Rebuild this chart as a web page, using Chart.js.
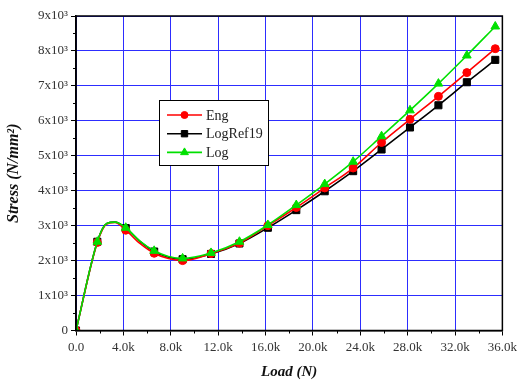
<!DOCTYPE html>
<html>
<head>
<meta charset="utf-8">
<script src="https://cdn.jsdelivr.net/npm/chart.js@4"></script>
<style>
  html, body { margin: 0; padding: 0; background: #fff; }
  #wrap { width: 521px; height: 385px; }
</style>
</head>
<body>
<div id="wrap"><canvas id="chart"></canvas></div>
<script>
// load in N
const loads = [0, 1800, 2600, 3300, 4200, 5400, 6600, 7800, 9000, 11400, 13800, 16200, 18600, 21000, 23400, 25800, 28200, 30600, 33000, 35400];
// which loads carry a marker (the others are only line points)
const marked = [1, 1, 0, 0, 1, 0, 1, 0, 1, 1, 1, 1, 1, 1, 1, 1, 1, 1, 1, 1];

const eng = [0, 2520, 3050, 3090, 2870, 2490, 2210, 2060, 2000, 2200, 2500, 3000, 3520, 4080, 4650, 5380, 6045, 6700, 7380, 8065];
const logRef19 = [0, 2540, 3060, 3100, 2930, 2550, 2260, 2100, 2040, 2190, 2490, 2940, 3445, 3985, 4560, 5180, 5810, 6445, 7105, 7745];
const logStress = [0, 2540, 3060, 3100, 2940, 2560, 2280, 2120, 2063, 2220, 2540, 3020, 3590, 4190, 4830, 5560, 6300, 7065, 7870, 8700];

const xTicks = ["0.0", "4.0k", "8.0k", "12.0k", "16.0k", "20.0k", "24.0k", "28.0k", "32.0k", "36.0k"];
const yTicks = ["0", "1x10³", "2x10³", "3x10³", "4x10³", "5x10³", "6x10³", "7x10³", "8x10³", "9x10³"];

const FONT = "'Liberation Serif', 'Times New Roman', serif";

function pts(ys) {
    return loads.map((x, i) => ({ x: x, y: ys[i] }));
}

function series(label, ys, color, style, r, order) {
    return {
        label: label,
        data: pts(ys),
        borderColor: color,
        backgroundColor: color,
        borderWidth: 1.6,
        pointStyle: style,
        pointRadius: marked.map(m => m ? r : 0),
        pointBorderWidth: 1,
        cubicInterpolationMode: "monotone",
        order: order
    };
}

const datasets = [
    series("Eng", eng, "#ff0000", "circle", 4, 1),
    series("LogRef19", logRef19, "#000000", "rect", 5, 2),
    series("Log", logStress, "#00e000", "triangle", 5, 0)
];

// frame, minor ticks and the boxed legend
const extras = {
    id: "extras",
    afterDraw(chart) {
        const ctx = chart.ctx;
        const a = chart.chartArea;
        const xs = chart.scales.x, ys = chart.scales.y;
        ctx.save();
        ctx.strokeStyle = "#000";
        ctx.lineWidth = 1.5;
        ctx.strokeRect(a.left, a.top, a.right - a.left, a.bottom - a.top);

        ctx.lineWidth = 1;
        ctx.beginPath();
        for (let v = 2000; v < 36000; v += 4000) {
            const px = Math.round(xs.getPixelForValue(v)) + 0.5;
            ctx.moveTo(px, a.bottom);
            ctx.lineTo(px, a.bottom + 3);
        }
        for (let v = 500; v < 9000; v += 1000) {
            const py = Math.round(ys.getPixelForValue(v)) + 0.5;
            ctx.moveTo(a.left, py);
            ctx.lineTo(a.left - 3, py);
        }
        ctx.stroke();

        // legend
        const bx = a.left + 83, by = a.top + 84, bw = 109, bh = 65;
        ctx.fillStyle = "#fff";
        ctx.fillRect(bx, by, bw, bh);
        ctx.strokeStyle = "#000";
        ctx.lineWidth = 1;
        ctx.strokeRect(bx + 0.5, by + 0.5, bw, bh);
        ctx.font = "14px " + FONT;
        ctx.textBaseline = "middle";
        chart.data.datasets.forEach((ds, row) => {
            const yy = by + 15 + row * 18.7;
            ctx.strokeStyle = ds.borderColor;
            ctx.fillStyle = ds.borderColor;
            ctx.lineWidth = 1.6;
            ctx.beginPath();
            ctx.moveTo(bx + 8, yy);
            ctx.lineTo(bx + 43, yy);
            ctx.stroke();
            ctx.lineWidth = 1;
            Chart.helpers.drawPoint(ctx, {
                pointStyle: ds.pointStyle,
                rotation: 0,
                radius: ds.pointStyle === "circle" ? 3.5 : 4.5,
                borderWidth: 1
            }, bx + 25.5, yy);
            ctx.fillStyle = "#222";
            ctx.fillText(ds.label, bx + 47, yy + 1);
        });
        ctx.restore();
    }
};

new Chart(document.getElementById("chart"), {
    type: "line",
    data: { datasets: datasets },
    options: {
        responsive: true,
        maintainAspectRatio: false,
        animation: false,
        layout: { padding: { left: 0, right: 16, top: 16, bottom: 0 } },
        plugins: { legend: { display: false }, tooltip: { enabled: false } },
        scales: {
            x: {
                type: "linear",
                min: 0,
                max: 36000,
                afterFit(s) { s.height = 54.5; },
                ticks: {
                    stepSize: 4000,
                    padding: 4,
                    color: "#333",
                    font: { family: FONT, size: 13 },
                    maxRotation: 0,
                    callback: (v, i) => xTicks[i]
                },
                grid: { color: "rgb(45,45,255)", tickColor: "#000", tickLength: 5, lineWidth: 1 },
                border: { color: "#000", width: 1.5 },
                title: {
                    display: true,
                    text: "Load (N)",
                    color: "#111",
                    font: { family: FONT, size: 15, weight: "bold", style: "italic" },
                    padding: { top: 8 }
                }
            },
            y: {
                min: 0,
                max: 9000,
                afterFit(s) { s.width = 76; },
                ticks: {
                    stepSize: 1000,
                    padding: 3,
                    color: "#333",
                    font: { family: FONT, size: 13 },
                    callback: (v, i) => yTicks[i]
                },
                grid: { color: "rgb(45,45,255)", tickColor: "#000", tickLength: 5, lineWidth: 1 },
                border: { color: "#000", width: 1.5 },
                title: {
                    display: true,
                    text: "Stress (N/mm²)",
                    color: "#111",
                    font: { family: FONT, size: 16, weight: "bold", style: "italic" },
                    padding: { bottom: 0 }
                }
            }
        }
    },
    plugins: [extras]
});
</script>
</body>
</html>
